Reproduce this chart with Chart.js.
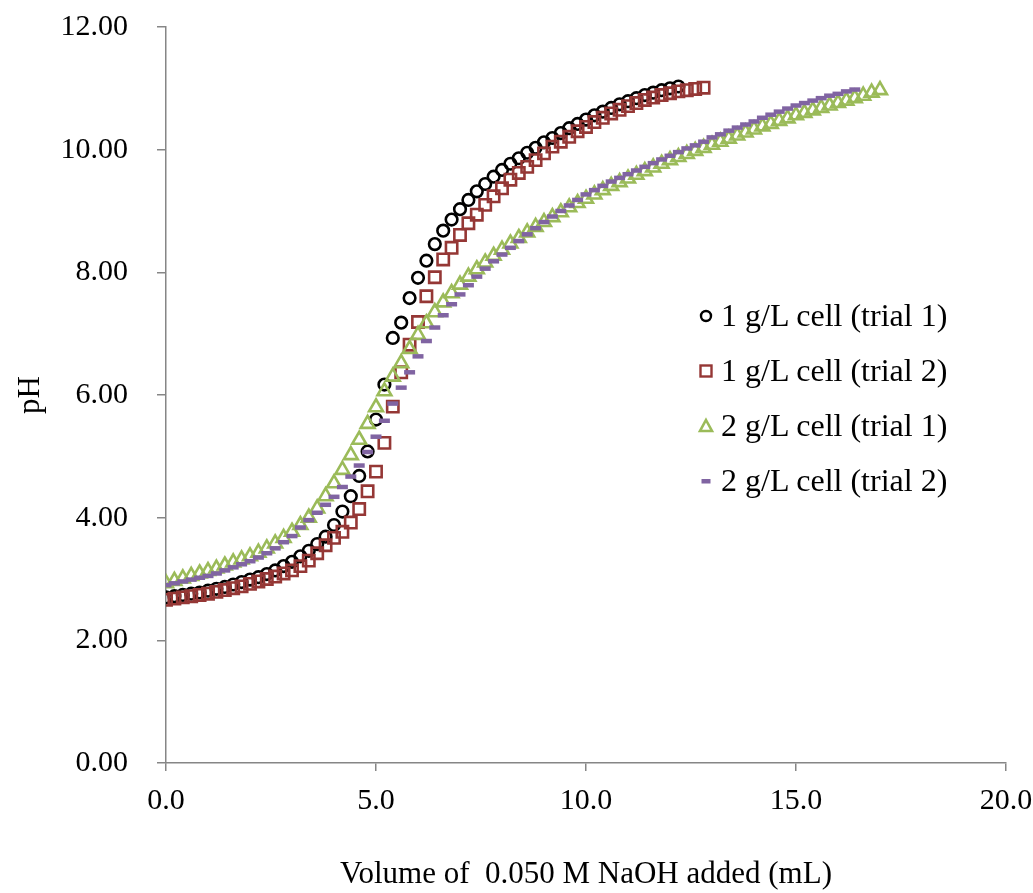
<!DOCTYPE html>
<html lang="en">
<head>
  <meta charset="UTF-8" />
  <title>pH titration curves</title>
  <script src="https://cdn.jsdelivr.net/npm/chart.js"></script>
  <style>
    body {
      margin: 0;
      background: #fff;
      font-family: "Liberation Serif", "Times New Roman", serif;
    }
    #wrap {
      position: relative;
      width: 1033px;
      height: 893px;
    }
    #legend {
      position: absolute;
      left: 696px;
      top: 288px;
    }
    .row {
      height: 55px;
      line-height: 55px;
      display: flex;
      align-items: center;
      font-size: 32px;
      color: #000;
      white-space: nowrap;
    }
    .row svg {
      width: 20px;
      height: 20px;
      margin-right: 5px;
    }
  </style>
</head>
<body>
  <div id="wrap">
    <canvas id="chart" width="1033" height="893"></canvas>
    <div id="legend">
      <div class="row"><svg viewBox="0 0 20 20"><circle cx="10" cy="10" r="5" fill="none" stroke="#000" stroke-width="2.4"/></svg>1 g/L cell (trial 1)</div>
      <div class="row"><svg viewBox="0 0 20 20"><rect x="4.5" y="4.5" width="11" height="11" fill="none" stroke="#953735" stroke-width="2.4"/></svg>1 g/L cell (trial 2)</div>
      <div class="row"><svg viewBox="0 0 20 20"><polygon points="10,4 16,15 4,15" fill="none" stroke="#9BBB59" stroke-width="2.6"/></svg>2 g/L cell (trial 1)</div>
      <div class="row"><svg viewBox="0 0 20 20"><rect x="5.5" y="8" width="9" height="4.5" fill="#8064A2"/></svg>2 g/L cell (trial 2)</div>
    </div>
  </div>

  <script>
    // volume of NaOH added (mL), one reading every 0.2 mL
    const volumes = [
      0.0, 0.2, 0.4, 0.6, 0.8, 1.0, 1.2, 1.4, 1.6, 1.8,
      2.0, 2.2, 2.4, 2.6, 2.8, 3.0, 3.2, 3.4, 3.6, 3.8,
      4.0, 4.2, 4.4, 4.6, 4.8, 5.0, 5.2, 5.4, 5.6, 5.8,
      6.0, 6.2, 6.4, 6.6, 6.8, 7.0, 7.2, 7.4, 7.6, 7.8,
      8.0, 8.2, 8.4, 8.6, 8.8, 9.0, 9.2, 9.4, 9.6, 9.8,
      10.0, 10.2, 10.4, 10.6, 10.8, 11.0, 11.2, 11.4, 11.6, 11.8,
      12.0, 12.2, 12.4, 12.6, 12.8, 13.0, 13.2, 13.4, 13.6, 13.8,
      14.0, 14.2, 14.4, 14.6, 14.8, 15.0, 15.2, 15.4, 15.6, 15.8,
      16.0, 16.2, 16.4, 16.6, 16.8, 17.0
    ];

    const ph1gTrial1 = [
      2.70, 2.72, 2.74, 2.76, 2.78, 2.81, 2.84, 2.87, 2.91, 2.95,
      2.99, 3.03, 3.08, 3.14, 3.21, 3.28, 3.37, 3.46, 3.57, 3.69,
      3.88, 4.10, 4.35, 4.68, 5.08, 5.60, 6.17, 6.93, 7.18, 7.58,
      7.91, 8.19, 8.46, 8.68, 8.86, 9.03, 9.18, 9.32, 9.44, 9.56,
      9.67, 9.77, 9.86, 9.95, 10.03, 10.12, 10.19, 10.27, 10.35, 10.42,
      10.49, 10.56, 10.62, 10.68, 10.74, 10.79, 10.84, 10.89, 10.93, 10.97,
      11.00, 11.03
    ];

    const ph1gTrial2 = [
      2.66, 2.68, 2.70, 2.72, 2.74, 2.76, 2.79, 2.82, 2.85, 2.88,
      2.92, 2.96, 3.00, 3.04, 3.09, 3.14, 3.21, 3.30, 3.42, 3.55,
      3.67, 3.77, 3.92, 4.14, 4.43, 4.75, 5.22, 5.81, 6.37, 6.82,
      7.19, 7.61, 7.92, 8.21, 8.40, 8.61, 8.80, 8.94, 9.10, 9.24,
      9.37, 9.51, 9.62, 9.72, 9.83, 9.94, 10.05, 10.13, 10.21, 10.30,
      10.37, 10.45, 10.52, 10.59, 10.65, 10.71, 10.76, 10.81, 10.85, 10.89,
      10.92, 10.95, 10.97, 10.99, 11.01
    ];

    const ph2gTrial1 = [
      2.93, 2.97, 3.01, 3.05, 3.09, 3.13, 3.17, 3.22, 3.27, 3.32,
      3.37, 3.43, 3.50, 3.58, 3.67, 3.77, 3.88, 4.00, 4.15, 4.35,
      4.56, 4.78, 5.02, 5.27, 5.53, 5.80, 6.06, 6.30, 6.52, 6.75,
      6.98, 7.17, 7.35, 7.51, 7.66, 7.80, 7.93, 8.05, 8.16, 8.27,
      8.37, 8.47, 8.56, 8.65, 8.74, 8.82, 8.90, 8.98, 9.06, 9.13,
      9.20, 9.27, 9.34, 9.41, 9.47, 9.53, 9.59, 9.65, 9.71, 9.77,
      9.83, 9.88, 9.93, 9.98, 10.03, 10.08, 10.13, 10.18, 10.23, 10.28,
      10.33, 10.38, 10.42, 10.47, 10.51, 10.56, 10.60, 10.64, 10.68, 10.72,
      10.76, 10.80, 10.84, 10.88, 10.93, 10.97
    ];

    const ph2gTrial2 = [
      2.90, 2.93, 2.96, 2.99, 3.02, 3.05, 3.09, 3.14, 3.19, 3.24,
      3.29, 3.35, 3.42, 3.50, 3.60, 3.70, 3.84, 3.96, 4.08, 4.21,
      4.34, 4.50, 4.67, 4.85, 5.07, 5.32, 5.58, 5.86, 6.12, 6.37,
      6.63, 6.88, 7.10, 7.30, 7.48, 7.64, 7.79, 7.93, 8.06, 8.18,
      8.29, 8.40, 8.51, 8.62, 8.72, 8.82, 8.91, 9.00, 9.09, 9.18,
      9.27, 9.34, 9.41, 9.48, 9.54, 9.60, 9.66, 9.72, 9.78, 9.84,
      9.90, 9.96, 10.02, 10.07, 10.13, 10.20, 10.25, 10.31, 10.36, 10.41,
      10.46, 10.52, 10.57, 10.62, 10.67, 10.72, 10.76, 10.80, 10.84, 10.88,
      10.91, 10.95, 10.98
    ];

    const axisGray = "#868686";
    const font = { family: "'Liberation Serif', 'Times New Roman', serif", size: 30 };
    const titleFont = { family: "'Liberation Serif', 'Times New Roman', serif", size: 31 };

    function toPoints(ph) {
      return ph.map((v, i) => ({ x: volumes[i], y: v }));
    }

    const ctx = document.getElementById("chart").getContext("2d");

    // order: Excel puts later series on top, so they get a lower order value
    new Chart(ctx, {
      type: "scatter",
      data: {
        datasets: [
          {
            label: "1 g/L cell (trial 1)",
            data: toPoints(ph1gTrial1),
            pointStyle: "circle",
            pointRadius: 5.8,
            pointBorderWidth: 2.6,
            pointBorderColor: "#000000",
            pointBackgroundColor: "rgba(0,0,0,0)",
            order: 3,
          },
          {
            label: "1 g/L cell (trial 2)",
            data: toPoints(ph1gTrial2),
            pointStyle: "rect",
            pointRadius: 8,
            pointBorderWidth: 2.6,
            pointBorderColor: "#953735",
            pointBackgroundColor: "rgba(0,0,0,0)",
            order: 2,
          },
          {
            label: "2 g/L cell (trial 1)",
            data: toPoints(ph2gTrial1),
            pointStyle: "triangle",
            pointRadius: 8,
            pointBorderWidth: 2.6,
            pointBorderColor: "#9BBB59",
            pointBackgroundColor: "rgba(0,0,0,0)",
            order: 1,
          },
          {
            label: "2 g/L cell (trial 2)",
            data: toPoints(ph2gTrial2),
            pointStyle: "line",
            pointRadius: 5.5,
            pointBorderWidth: 4.5,
            pointBorderColor: "#8064A2",
            pointBackgroundColor: "#8064A2",
            order: 0,
          },
        ],
      },
      options: {
        responsive: false,
        animation: false,
        layout: { padding: { top: 27, right: 27, left: 0, bottom: 0 } },
        plugins: {
          legend: { display: false },
          tooltip: { enabled: false },
        },
        scales: {
          x: {
            type: "linear",
            min: 0,
            max: 20,
            ticks: {
              stepSize: 5,
              font: font,
              color: "#000",
              padding: 12,
              callback: (v) => v.toFixed(1),
            },
            grid: { drawOnChartArea: false, tickLength: 8, color: axisGray, lineWidth: 1.5 },
            border: { color: axisGray, width: 1.5 },
            title: {
              display: true,
              text: "Volume of  0.050 M NaOH added (mL)",
              font: titleFont,
              color: "#000",
              padding: 0,
            },
            afterFit: (scale) => {
              scale.height = 130;
              scale.paddingLeft = 0;
              scale.paddingRight = 0;
            },
          },
          y: {
            min: 0,
            max: 12,
            ticks: {
              stepSize: 2,
              font: font,
              color: "#000",
              padding: 29,
              callback: (v) => v.toFixed(2),
            },
            grid: { drawOnChartArea: false, tickLength: 9, color: axisGray, lineWidth: 1.5 },
            border: { color: axisGray, width: 1.5 },
            title: {
              display: true,
              text: "pH",
              font: titleFont,
              color: "#000",
              padding: { top: 12, bottom: 0 },
            },
            afterFit: (scale) => {
              scale.width = 166;
              scale.paddingTop = 0;
              scale.paddingBottom = 0;
            },
          },
        },
      },
    });
  </script>
</body>
</html>
